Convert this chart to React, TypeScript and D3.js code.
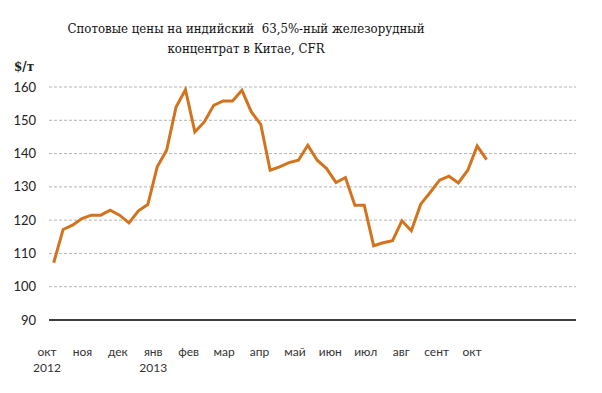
import { useMemo } from "react";
import * as d3 from "d3";

const MARGIN = { top: 87, right: 26, bottom: 73, left: 49 };
const WIDTH = 602;
const HEIGHT = 393;

// weekly spot prices, $/t (Oct 2012 - Sep 2013)
const prices = [
  107.2, 117.2, 118.5, 120.5, 121.5, 121.5, 123, 121.5, 119.2, 122.8, 124.7,
  136, 141, 154, 159.2, 146.5, 149.5, 154.5, 155.8, 155.8, 159, 152.5, 148.8,
  135, 136, 137.3, 138, 142.5, 138, 135.5, 131.3, 132.8, 124.5, 124.5, 112.3,
  113.2, 113.8, 119.8, 116.8, 124.8, 128.3, 132, 133.2, 131.2, 135, 142.3, 138.2,
];
const WEEK_SLOTS = 56;

const months = ["окт", "ноя", "дек", "янв", "фев", "мар", "апр", "май", "июн", "июл", "авг", "сент", "окт"];
const years: Record<number, string> = { 0: "2012", 3: "2013" };
const yTicks = [90, 100, 110, 120, 130, 140, 150, 160];

const titleLines = ["Спотовые цены на индийский  63,5%-ный железорудный", "концентрат в Китае, CFR"];

export default function App() {
  const boundsWidth = WIDTH - MARGIN.left - MARGIN.right;
  const boundsHeight = HEIGHT - MARGIN.top - MARGIN.bottom;

  const xScale = useMemo(
    () => d3.scaleBand<number>().domain(d3.range(WEEK_SLOTS)).range([0, boundsWidth]).padding(0),
    [boundsWidth]
  );
  const yScale = useMemo(
    () => d3.scaleLinear().domain([90, 160]).range([boundsHeight, 0]),
    [boundsHeight]
  );
  const monthScale = useMemo(
    () => d3.scalePoint<number>().domain(d3.range(months.length)).range([-2, 423]),
    []
  );

  const line = d3
    .line<number>()
    .x((_, i) => (xScale(i) as number) + xScale.bandwidth() / 2)
    .y((d) => yScale(d));

  const tickFont = "Lato, 'Open Sans', sans-serif";

  return (
    <svg width={WIDTH} height={HEIGHT} style={{ position: "absolute", left: 0, top: 0, background: "#fff" }}>
      {titleLines.map((t, i) => (
        <text
          key={i}
          x={246}
          y={33 + i * 20}
          textAnchor="middle"
          fontFamily="'DejaVu Serif', serif"
          fontSize={13.5}
          fill="#111"
          textLength={i === 0 ? 357 : 157}
          lengthAdjust="spacingAndGlyphs"
          style={{ whiteSpace: "pre" }}
        >
          {t}
        </text>
      ))}
      <text x={14} y={71} fontFamily="'DejaVu Serif', serif" fontSize={12} fontWeight="bold" fill="#222">
        $/т
      </text>
      <g transform={`translate(${MARGIN.left},${MARGIN.top})`}>
        {yTicks.map((t) => (
          <g key={t}>
            {t !== 90 && (
              <line
                x1={0}
                x2={boundsWidth}
                y1={yScale(t)}
                y2={yScale(t)}
                stroke="#b5b5b5"
                strokeDasharray="3,2"
                strokeWidth={1}
              />
            )}
            <text
              x={-13}
              y={yScale(t)}
              dy="0.35em"
              textAnchor="end"
              fontFamily={tickFont}
              fontSize={13}
              fill="#222"
            >
              {t}
            </text>
          </g>
        ))}
        <line x1={0} x2={boundsWidth} y1={yScale(90)} y2={yScale(90)} stroke="#000" strokeWidth={1.5} />
        <path d={line(prices) ?? ""} fill="none" stroke="#d2741e" strokeWidth={3} strokeLinejoin="miter" />
        {months.map((m, i) => (
          <g key={i} transform={`translate(${monthScale(i)},0)`}>
            <text
              y={boundsHeight + 36}
              textAnchor="middle"
              fontFamily={tickFont}
              fontSize={12}
              fill="#333"
            >
              {m}
            </text>
            {years[i] && (
              <text
                x={0}
                y={boundsHeight + 52}
                textAnchor="middle"
                fontFamily={tickFont}
                fontSize={12}
                fill="#333"
              >
                {years[i]}
              </text>
            )}
          </g>
        ))}
      </g>
    </svg>
  );
}
